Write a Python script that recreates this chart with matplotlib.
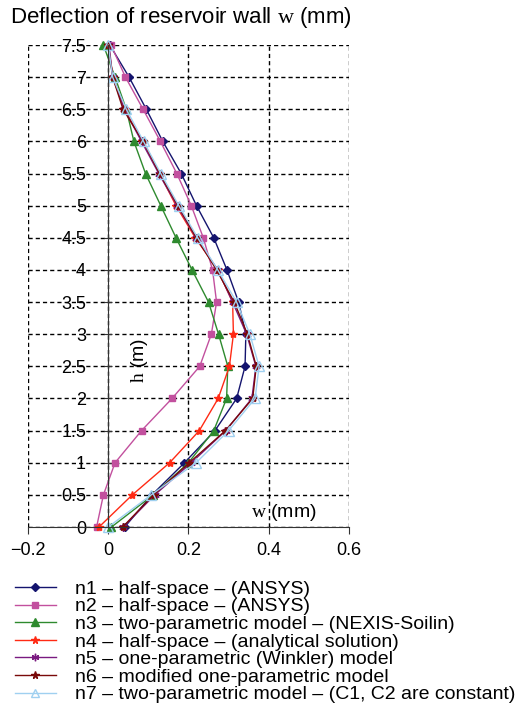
import numpy as np
import matplotlib.pyplot as plt

plt.rcParams['font.family'] = ['Liberation Sans', 'DejaVu Sans']
plt.rcParams['mathtext.fontset'] = 'custom'
plt.rcParams['mathtext.rm'] = 'Liberation Serif'

h = [0, 0.5, 1, 1.5, 2, 2.5, 3, 3.5, 4, 4.5, 5, 5.5, 6, 6.5, 7, 7.5]

n1 = [0.041, 0.109, 0.190, 0.266, 0.320, 0.341, 0.343, 0.325, 0.296, 0.263, 0.220, 0.182, 0.136, 0.095, 0.052, 0.004]
n2 = [-0.029, -0.012, 0.017, 0.083, 0.159, 0.228, 0.257, 0.270, 0.260, 0.237, 0.207, 0.171, 0.130, 0.087, 0.043, 0.007]
n3 = [0.008, 0.112, 0.200, 0.263, 0.295, 0.298, 0.275, 0.250, 0.209, 0.169, 0.131, 0.093, 0.064, 0.045, 0.017, -0.012]
n4 = [-0.023, 0.060, 0.153, 0.227, 0.274, 0.302, 0.312, 0.310, 0.273, 0.217, 0.169, 0.128, 0.085, 0.041, 0.012, 0.000]
n5 = [0.037, 0.116, 0.207, 0.293, 0.358, 0.368, 0.345, 0.310, 0.273, 0.219, 0.172, 0.126, 0.083, 0.040, 0.011, 0.002]
n6 = [0.036, 0.113, 0.202, 0.292, 0.360, 0.369, 0.347, 0.314, 0.270, 0.220, 0.174, 0.128, 0.087, 0.037, 0.011, 0.000]
n7 = [0.000, 0.107, 0.219, 0.300, 0.366, 0.376, 0.353, 0.320, 0.273, 0.223, 0.176, 0.131, 0.088, 0.045, 0.011, 0.000]

labels = [
    'n1 – half-space – (ANSYS)',
    'n2 – half-space – (ANSYS)',
    'n3 – two-parametric model – (NEXIS-Soilin)',
    'n4 – half-space – (analytical solution)',
    'n5 – one-parametric (Winkler) model',
    'n6 – modified one-parametric model',
    'n7 – two-parametric model – (C1, C2 are constant)',
]

fig = plt.figure(figsize=(5.31, 7.04), dpi=100)
ax = fig.add_axes([0.0527, 0.2514, 0.6045, 0.6846])

styles = [
    dict(color='#14146e', marker='D', ms=4.5),
    dict(color='#c2509e', marker='s', ms=5),
    dict(color='#2e8a2e', marker='^', ms=6),
    dict(color='#ff2a14', marker='*', ms=6),
    dict(color='#7a1a80', marker=(6, 2, 0), ms=6),
    dict(color='#7a0a0a', marker='*', ms=6),
    dict(color='#9fd0f0', marker='^', ms=7, mfc='none'),
]

for data, lab, st in zip([n1, n2, n3, n4, n5, n6, n7], labels, styles):
    ax.plot(data, h, lw=1, label=lab, clip_on=False, **st)

ax.set_xlim(-0.2, 0.6)
ax.set_ylim(0, 7.5)
ax.set_xticks([-0.2, 0, 0.2, 0.4, 0.6])
ax.set_xticklabels(['−0.2', '0', '0.2', '0.4', '0.6'])
ax.set_yticks(np.arange(0, 7.6, 0.5))
ax.set_yticklabels(['0', '0.5', '1', '1.5', '2', '2.5', '3', '3.5', '4', '4.5', '5', '5.5', '6', '6.5', '7', '7.5'])

ax.grid(True, color='black', lw=1, linestyle=(0, (3, 2.2)))
ax.set_axisbelow(True)
for s in ['top', 'right']:
    ax.spines[s].set_visible(False)
ax.spines['left'].set_position(('data', 0))
ax.spines['left'].set_color('#333333')
ax.spines['bottom'].set_color('#333333')
ax.tick_params(axis='y', direction='inout', length=6, pad=13, labelsize=13, color='#333333')
ax.tick_params(axis='x', direction='out', length=5, pad=6, labelsize=13, color='#333333')

ax.text(0.079, 2.6, r'$\mathrm{h}$ (m)', rotation=90, ha='center', va='center', fontsize=14)
ax.text(0.355, 0.06, r'$\mathrm{w}$ (mm)', ha='left', va='bottom', fontsize=14)

fig.text(10 / 531, 1 - 18 / 704, r'Deflection of reservoir wall $\mathrm{w}$ (mm)',
         ha='left', va='center', fontsize=16)

fig.legend(loc='upper left', bbox_to_anchor=(0.028, 0.176), frameon=False,
           fontsize=14, handlelength=2.1, handletextpad=1.0, labelspacing=0.0,
           borderpad=0, borderaxespad=0, markerscale=0.9)

fig.savefig('out.png', dpi=100)
